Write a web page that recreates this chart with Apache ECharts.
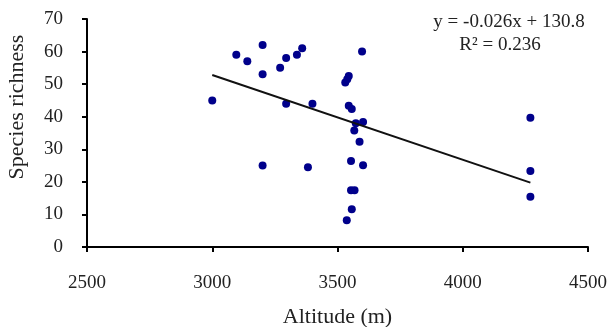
<!DOCTYPE html>
<html><head><meta charset="utf-8">
<script src="https://cdn.jsdelivr.net/npm/echarts@6/dist/echarts.min.js"></script>
<style>html,body{margin:0;padding:0;background:#fff}#c{width:612px;height:327px}</style>
</head><body><div id="c"></div>
<script>
const altitude = [3000,3096,3140,3201,3201,3201,3271,3295,3338,3359,3295,3400,3382,3598,3545,3539,3531,3545,3557,3573,3602,3567,3588,3554,3602,3554,3568,3557,3537,4270,4270,4270];
const richness = [45,59,57,62,53,25,55,58,59,61,44,44,24.5,60,52.5,51.5,50.5,43.4,42.4,38,38.4,35.8,32.3,26.4,25.1,17.4,17.4,11.6,8.2,39.7,23.3,15.4];
const slope = -0.026, intercept = 130.8;
const fitRange = [3000, 4270];
const xTicks = {min:2500, max:4500, interval:500};
const yTicks = {min:0, max:70, interval:10};
const eqText = 'y = -0.026x + 130.8';
const r2Text = 'R² = 0.236';

const font = '"Liberation Serif", "DejaVu Serif", serif';
const chart = echarts.init(document.getElementById('c'));
const pts = altitude.map((a,i)=>[a, richness[i]]);
const fit = fitRange.map(x=>[x, slope*x+intercept]);
chart.setOption({
  animation:false,
  grid:{left:87, right:24, top:19, bottom:80, containLabel:false, outerBoundsMode:'none'},
  xAxis:{type:'value', min:xTicks.min, max:xTicks.max, interval:xTicks.interval,
    splitLine:{show:false},
    axisLine:{lineStyle:{color:'#000', width:2}},
    axisTick:{show:true, length:5, lineStyle:{color:'#000', width:2}},
    axisLabel:{color:'#222', fontFamily:font, fontSize:19, margin:27, formatter:v=>String(v)},
    name:'Altitude (m)', nameLocation:'middle', nameGap:59,
    nameTextStyle:{color:'#222', fontFamily:font, fontSize:22}},
  yAxis:{type:'value', min:yTicks.min, max:yTicks.max, interval:yTicks.interval,
    splitLine:{show:false},
    axisLine:{show:true, lineStyle:{color:'#000', width:2}},
    axisTick:{show:true, length:5, lineStyle:{color:'#000', width:2}},
    axisLabel:{color:'#222', fontFamily:font, fontSize:19, margin:24}},
  graphic:[
    {type:'text', x:17, y:107, rotation:Math.PI/2, style:{text:'Species richness', fill:'#222', font:'22px '+font, textAlign:'center', textVerticalAlign:'middle'}},
    {type:'text', x:509, y:22, style:{text:eqText, fill:'#222', font:'19px '+font, textAlign:'center', textVerticalAlign:'middle'}},
    {type:'text', x:500, y:45, style:{text:r2Text, fill:'#222', font:'19px '+font, textAlign:'center', textVerticalAlign:'middle'}}
  ],
  series:[
    {type:'scatter', data:pts, symbolSize:8, itemStyle:{color:'#00008B', opacity:1}},
    {type:'line', data:fit, symbol:'none', lineStyle:{color:'#111', width:2}}
  ]
});
</script></body></html>
